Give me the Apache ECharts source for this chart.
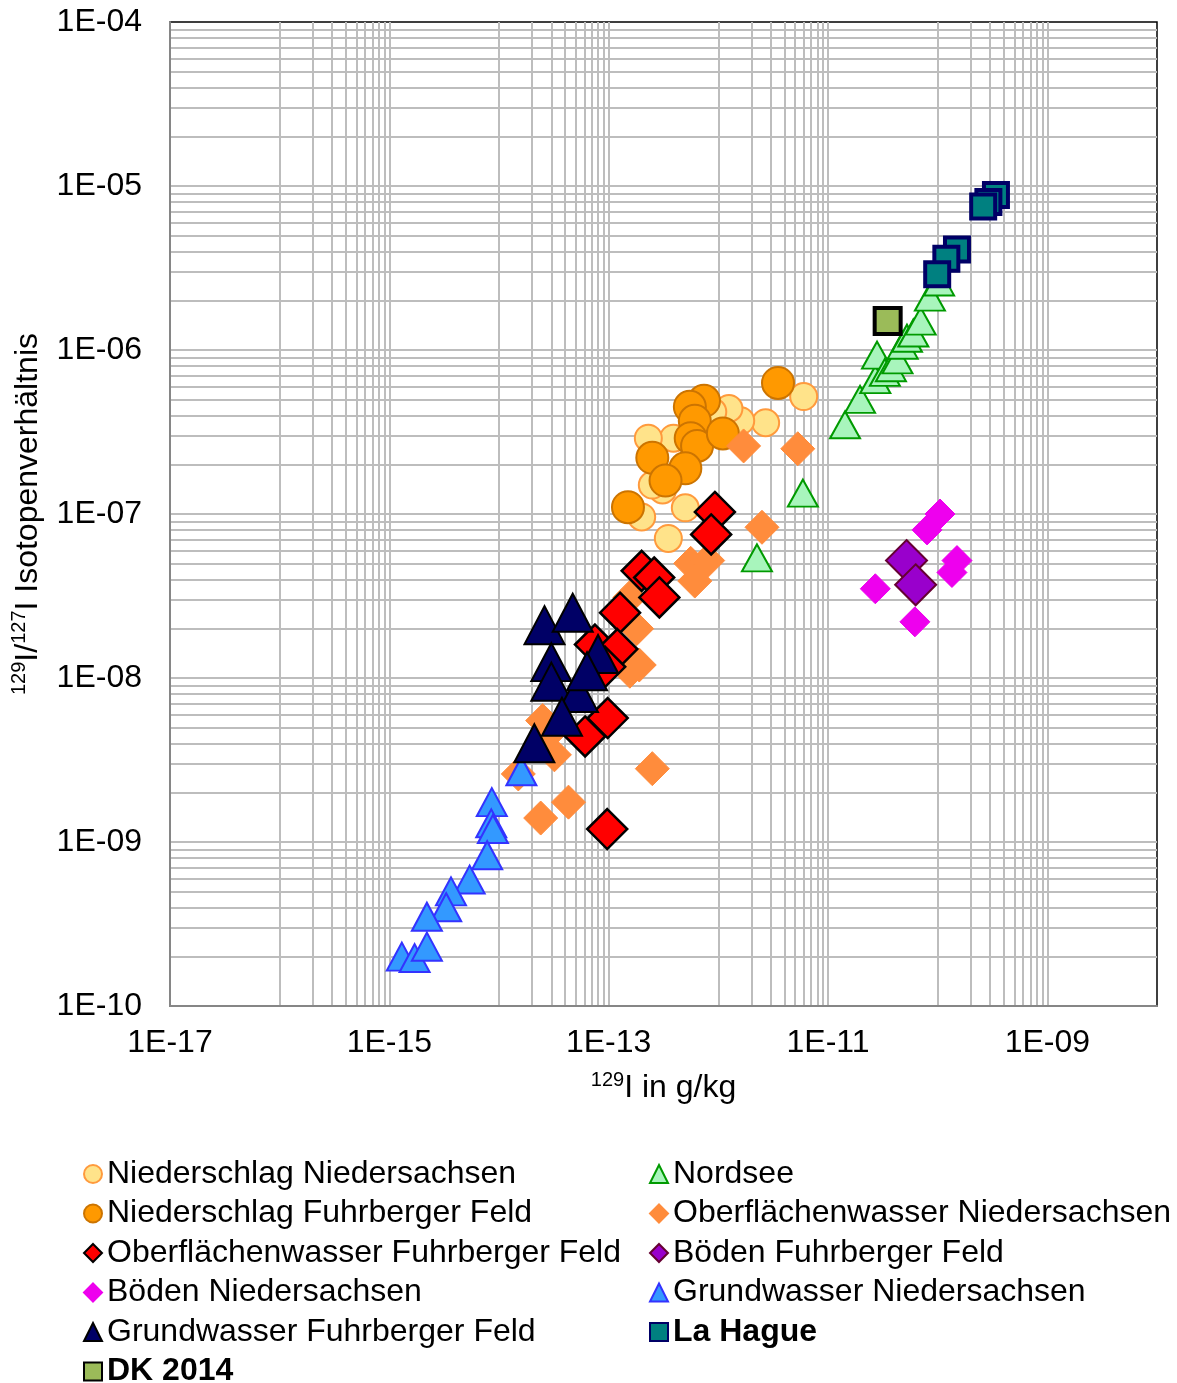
<!DOCTYPE html>
<html><head><meta charset="utf-8">
<script src="https://cdn.jsdelivr.net/npm/echarts@6/dist/echarts.min.js"></script>
<style>html,body{margin:0;padding:0;background:#fff}#c{width:1177px;height:1383px}</style>
</head><body><div id="c"></div>
<script>
// [x = 129I in g/kg, y = 129I/127I ratio]
const niederschlagNiedersachsen = [[6.0e-12,5.2e-7],[2.7e-12,3.6e-7],[1.6e-12,3.7e-7],[1.25e-12,4.4e-7],[8.9e-13,4.2e-7],[6.8e-13,4.6e-7],[3.9e-13,2.9e-7],[2.3e-13,2.9e-7],[3.1e-13,1.4e-7],[2.5e-13,1.5e-7],[2.0e-13,9.6e-8],[5.0e-13,1.09e-7],[3.5e-13,7.1e-8]];
const niederschlagFuhrberg = [[3.5e-12,6.3e-7],[7.4e-13,4.9e-7],[5.5e-13,4.5e-7],[6.1e-13,3.7e-7],[5.6e-13,2.9e-7],[6.4e-13,2.6e-7],[1.1e-12,3.1e-7],[2.5e-13,2.2e-7],[5.0e-13,1.9e-7],[3.3e-13,1.6e-7],[1.5e-13,1.1e-7]];
const nordsee = [[1.43e-11,3.5e-7],[1.96e-11,5.0e-7],[2.7e-11,6.6e-7],[2.8e-11,9.3e-7],[3.3e-11,7.3e-7],[3.75e-11,7.8e-7],[4.3e-11,8.7e-7],[4.8e-11,1.07e-6],[5.25e-11,1.18e-6],[6.0e-11,1.27e-6],[7.0e-11,1.5e-6],[8.5e-11,2.1e-6],[1.03e-10,2.6e-6],[5.9e-12,1.34e-7],[2.25e-12,5.4e-8]];
const oberflNiedersachsen = [[1.7e-12,2.6e-7],[5.3e-12,2.5e-7],[2.5e-12,8.3e-8],[5.6e-13,5.0e-8],[8.0e-13,5.2e-8],[6.1e-13,3.9e-8],[1.56e-13,3.1e-8],[1.8e-13,2.0e-8],[1.9e-13,1.2e-8],[1.56e-13,1.1e-8],[2.5e-14,5.5e-9],[3.2e-14,3.4e-9],[2.8e-14,4.5e-9],[1.5e-14,2.6e-9],[2.5e-13,2.8e-9],[4.3e-14,1.75e-9],[2.4e-14,1.4e-9]];
const oberflFuhrberg = [[9.3e-13,1.03e-7],[8.6e-13,7.5e-8],[2.0e-13,4.5e-8],[2.6e-13,4.1e-8],[2.9e-13,3.1e-8],[1.27e-13,2.5e-8],[7.5e-14,1.6e-8],[1.2e-13,1.5e-8],[9.3e-14,1.17e-8],[9.8e-14,5.7e-9],[6.1e-14,4.4e-9],[9.7e-14,1.2e-9]];
const bodenFuhrberg = [[5.2e-11,5.2e-8],[6.3e-11,3.7e-8]];
const bodenNiedersachsen = [[1.05e-10,1.0e-7],[8.0e-11,8.0e-8],[1.5e-10,5.2e-8],[1.35e-10,4.4e-8],[2.7e-11,3.5e-8],[6.2e-11,2.2e-8]];
const grundNiedersachsen = [[1.6e-14,2.7e-9],[8.6e-15,1.75e-9],[8.5e-15,1.3e-9],[8.8e-15,1.2e-9],[7.8e-15,8.3e-10],[5.4e-15,5.9e-10],[3.65e-15,5.0e-10],[3.3e-15,4.0e-10],[2.2e-15,3.5e-10],[1.3e-15,2.0e-10],[1.7e-15,1.96e-10],[2.2e-15,2.3e-10]];
const grundFuhrberg = [[2.6e-14,2.1e-8],[4.7e-14,2.5e-8],[3.0e-14,1.25e-8],[3.0e-14,9.5e-9],[8.0e-14,1.4e-8],[5.25e-14,8.1e-9],[3.75e-14,5.8e-9],[2.1e-14,4.0e-9],[6.35e-14,1.1e-8]];
const laHague = [[3.4e-10,8.8e-6],[2.9e-10,8.0e-6],[2.6e-10,7.5e-6],[1.5e-10,4.1e-6],[1.2e-10,3.6e-6],[9.9e-11,2.9e-6]];
const dk2014 = [[3.5e-11,1.5e-6]];

const xMin = 1e-17, xMax = 1e-8, yMin = 1e-10, yMax = 1e-4;

const FONT = 'Liberation Sans, Arial, sans-serif';
function fmtE(v){
  const e = Math.round(Math.log10(v));
  const a = Math.abs(e);
  return '1E' + (e < 0 ? '-' : '+') + (a < 10 ? '0' + a : '' + a);
}

// gridlines (Excel log base 100 on x: minor lines only in every second decade)
const gridLines = [];
const vx = [];
for (let e = -15; e <= -9; e += 2) vx.push(Math.pow(10, e));
for (let e = -16; e <= -10; e += 2) for (let k = 1; k <= 9; k++) vx.push(k * Math.pow(10, e));
vx.forEach(v => gridLines.push({coords: [[v, yMin], [v, yMax]]}));
for (let e = -10; e <= -5; e++) {
  for (let k = 1; k <= 9; k++) {
    if (e === -10 && k === 1) continue;
    const v = k * Math.pow(10, e);
    gridLines.push({coords: [[xMin, v], [xMax, v]]});
  }
}

const series = [
  {name:'Niederschlag Niedersachsen', data:niederschlagNiedersachsen, symbol:'circle', symbolSize:27,
   itemStyle:{color:'#FFE38A', borderColor:'#FF9A3D', borderWidth:2}},
  {name:'Nordsee', data:nordsee, symbol:'triangle', symbolSize:[30,27],
   itemStyle:{color:'#A8F5BC', borderColor:'#009A00', borderWidth:2}},
  {name:'Niederschlag Fuhrberger Feld', data:niederschlagFuhrberg, symbol:'circle', symbolSize:32,
   itemStyle:{color:'#FF9900', borderColor:'#CC7400', borderWidth:2}},
  {name:'Oberflächenwasser Niedersachsen', data:oberflNiedersachsen, symbol:'diamond', symbolSize:34,
   itemStyle:{color:'#FF8C3C', borderColor:'#FF8C3C', borderWidth:1}},
  {name:'Oberflächenwasser Fuhrberger Feld', data:oberflFuhrberg, symbol:'diamond', symbolSize:40,
   itemStyle:{color:'#FF0000', borderColor:'#000000', borderWidth:2.5}},
  {name:'Böden Fuhrberger Feld', data:bodenFuhrberg, symbol:'diamond', symbolSize:41,
   itemStyle:{color:'#9900CC', borderColor:'#660033', borderWidth:2}},
  {name:'Böden Niedersachsen', data:bodenNiedersachsen, symbol:'diamond', symbolSize:30,
   itemStyle:{color:'#EE00EE', borderColor:'#EE00EE', borderWidth:1}},
  {name:'Grundwasser Niedersachsen', data:grundNiedersachsen, symbol:'triangle', symbolSize:[30,28],
   itemStyle:{color:'#3399FF', borderColor:'#3333FF', borderWidth:2}},
  {name:'Grundwasser Fuhrberger Feld', data:grundFuhrberg, symbol:'triangle', symbolSize:[40,38],
   itemStyle:{color:'#000066', borderColor:'#000000', borderWidth:2}},
  {name:'La Hague', data:laHague, symbol:'rect', symbolSize:24,
   itemStyle:{color:'#008080', borderColor:'#000066', borderWidth:4}},
  {name:'DK 2014', data:dk2014, symbol:'rect', symbolSize:26,
   itemStyle:{color:'#9BBB59', borderColor:'#000000', borderWidth:4}}
].map(s => {
  s.itemStyle.opacity = 1;
  return Object.assign({type:'scatter', z:3, emphasis:{disabled:true}}, s);
});

series.unshift({
  type:'lines', name:'_grid', coordinateSystem:'cartesian2d', z:1, silent:true,
  polyline:false, symbol:'none', effect:{show:false},
  lineStyle:{color:'#BDBDBD', width:2, type:'solid', opacity:1, curveness:0},
  emphasis:{disabled:true},
  data:gridLines
});

const legendText = {fontFamily:FONT, fontSize:32, color:'#000'};
const chart = echarts.init(document.getElementById('c'), null, {renderer:'canvas'});
chart.setOption({
  animation:false,
  backgroundColor:'#fff',
  grid:{left:170, top:22, width:987, height:984, show:true, borderColor:'#000', borderWidth:1.5, backgroundColor:'#fff'},
  xAxis:{type:'log', logBase:10, min:xMin, max:xMax, z:5,
    axisLine:{show:true, lineStyle:{color:'#868686', width:2}},
    axisTick:{show:false}, splitLine:{show:false}, minorSplitLine:{show:false},
    axisLabel:{fontFamily:FONT, fontSize:32, color:'#000', margin:21,
      formatter:v => (Math.abs(Math.round(Math.log10(v))) % 2 === 1 ? fmtE(v) : '')},
    name:'{sup|129}I in g/kg', nameLocation:'middle', nameGap:64,
    nameTextStyle:{fontFamily:FONT, fontSize:32, color:'#000', lineHeight:36,
      rich:{sup:{fontFamily:FONT, fontSize:20, color:'#000', verticalAlign:'top', lineHeight:24}}}
  },
  yAxis:{type:'log', logBase:10, min:yMin, max:yMax, z:5,
    axisLine:{show:true, lineStyle:{color:'#868686', width:2}},
    axisTick:{show:false}, splitLine:{show:false},
    axisLabel:{fontFamily:FONT, fontSize:32, color:'#000', margin:28, formatter:v => fmtE(v)},
    name:'{sup|129}I/{sup|127}I Isotopenverhältnis', nameLocation:'middle', nameGap:104,
    nameTextStyle:{fontFamily:FONT, fontSize:32, color:'#000', lineHeight:36,
      rich:{sup:{fontFamily:FONT, fontSize:20, color:'#000', verticalAlign:'top', lineHeight:24}}}
  },
  legend:[
    {orient:'vertical', left:78, top:1153, height:300, itemWidth:18, itemHeight:18, itemGap:7.5, itemTextGap:6,
     textStyle:legendText,
     data:['Niederschlag Niedersachsen','Niederschlag Fuhrberger Feld','Oberflächenwasser Fuhrberger Feld',
       'Böden Niedersachsen','Grundwasser Fuhrberger Feld',
       {name:'DK 2014', textStyle:{fontWeight:'bold'}}]},
    {orient:'vertical', left:644, top:1153, height:300, itemWidth:18, itemHeight:18, itemGap:7.5, itemTextGap:6,
     textStyle:legendText,
     data:['Nordsee','Oberflächenwasser Niedersachsen','Böden Fuhrberger Feld','Grundwasser Niedersachsen',
       {name:'La Hague', textStyle:{fontWeight:'bold'}}]}
  ],
  series:series
});
</script>
</body></html>
